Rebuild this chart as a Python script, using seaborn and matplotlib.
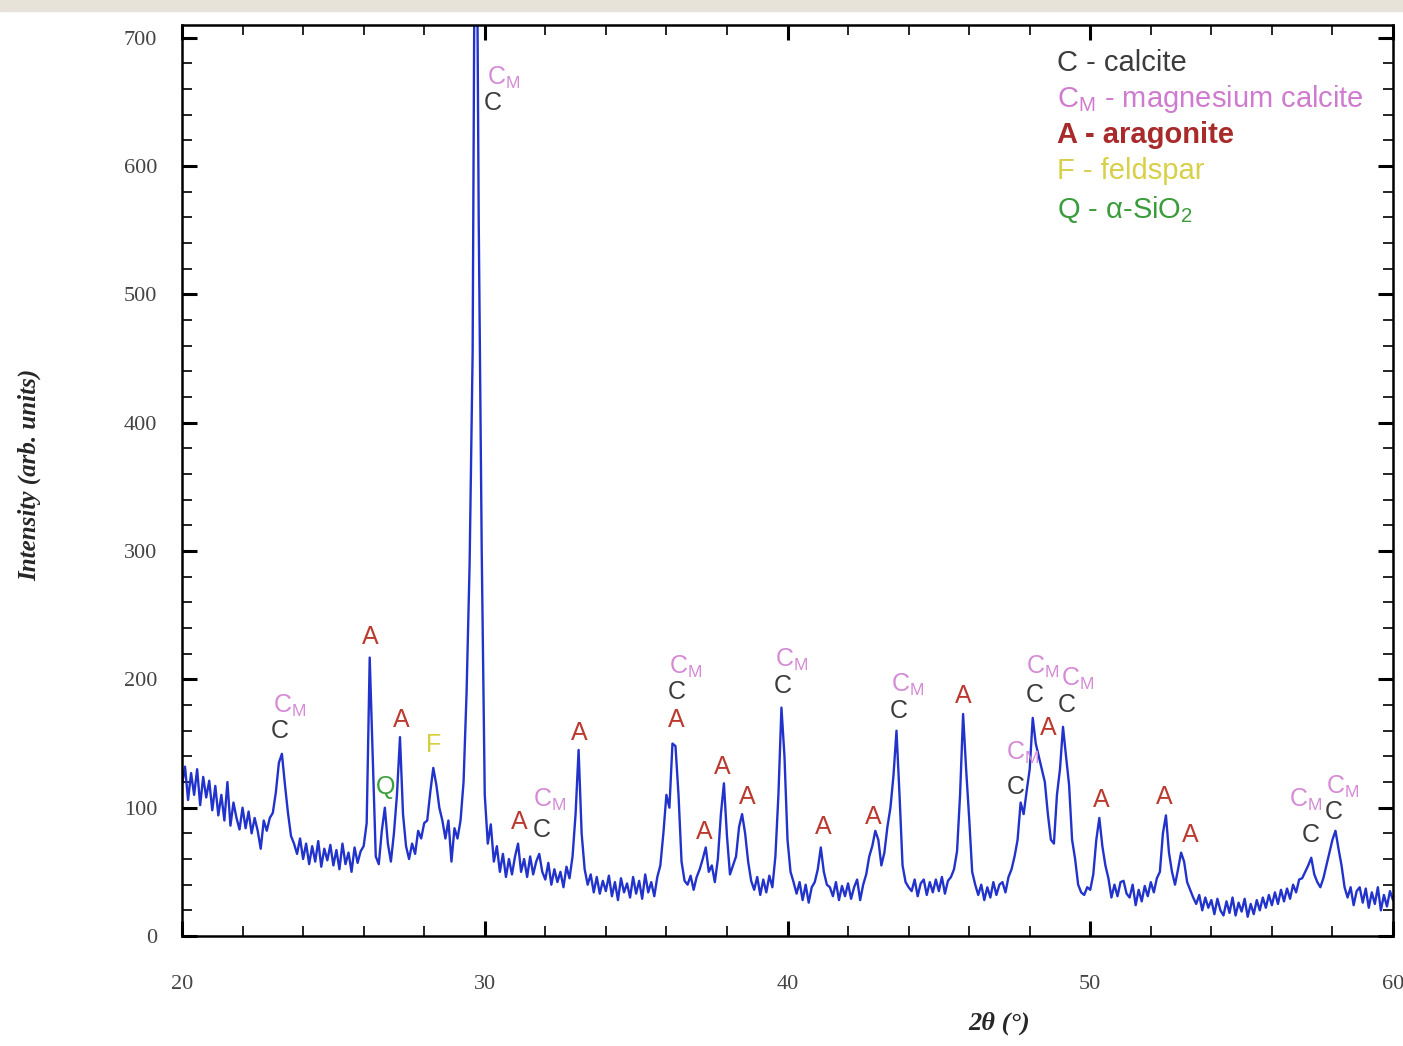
import numpy as np
import pandas as pd
import matplotlib.pyplot as plt
import seaborn as sns
from matplotlib.ticker import MultipleLocator
from matplotlib.patches import Rectangle

# intensity, one value every 0.1 deg of 2theta
int_20_30 = [118, 132, 106, 127, 110, 130, 102, 124, 108, 121,
             98, 117, 94, 110, 90, 120, 86, 104, 92, 83,
             100, 84, 97, 80, 92, 82, 68, 90, 82, 92,
             96, 112, 135, 142, 118, 96, 78, 72, 64, 76,
             60, 72, 56, 70, 58, 74, 54, 68, 59, 71,
             55, 67, 52, 72, 56, 65, 50, 69, 57, 66,
             70, 88, 217, 140, 62, 56, 82, 100, 72, 58,
             80, 110, 155, 95, 70, 60, 72, 64, 82, 76,
             88, 90, 112, 131, 118, 100, 90, 76, 90, 58,
             84, 76, 90, 120, 190, 290, 455, 950, 560, 300]
int_30_40 = [110, 72, 87, 58, 70, 50, 64, 46, 60, 48,
             62, 72, 50, 60, 46, 62, 48, 58, 64, 50,
             44, 57, 40, 52, 42, 50, 38, 54, 45, 62,
             95, 145, 80, 52, 40, 48, 34, 46, 33, 43,
             35, 47, 31, 42, 28, 45, 34, 41, 30, 46,
             33, 43, 29, 48, 34, 42, 31, 46, 55, 80,
             110, 100, 150, 148, 110, 58, 43, 40, 47, 36,
             46, 52, 60, 69, 50, 55, 42, 60, 95, 119,
             78, 48, 55, 62, 85, 95, 80, 58, 43, 36,
             46, 32, 44, 34, 47, 38, 62, 110, 178, 140]
int_40_50 = [75, 50, 42, 33, 42, 28, 40, 26, 38, 42,
             52, 69, 50, 40, 38, 31, 42, 28, 39, 31,
             41, 29, 38, 44, 28, 40, 48, 62, 70, 82,
             75, 55, 65, 85, 100, 125, 160, 110, 55, 42,
             38, 35, 44, 31, 41, 44, 32, 42, 34, 44,
             35, 46, 33, 43, 46, 52, 66, 110, 173, 130,
             92, 50, 40, 32, 40, 28, 38, 30, 42, 32,
             40, 42, 34, 46, 52, 62, 75, 104, 95, 113,
             130, 170, 150, 140, 130, 120, 95, 75, 72, 110,
             130, 163, 140, 118, 75, 60, 40, 34, 32, 38]
int_50_60 = [36, 48, 75, 92, 70, 55, 45, 30, 40, 31,
             42, 43, 33, 30, 40, 24, 36, 27, 39, 31,
             42, 34, 45, 50, 80, 94, 65, 50, 40, 52,
             65, 58, 42, 36, 30, 25, 32, 20, 30, 22,
             28, 17, 29, 20, 16, 27, 18, 30, 16, 26,
             19, 29, 15, 25, 17, 28, 20, 30, 22, 32,
             24, 34, 25, 36, 27, 37, 29, 40, 34, 44,
             45, 50, 55, 61, 48, 42, 38, 45, 55, 65,
             75, 82, 68, 55, 38, 30, 38, 24, 35, 38,
             26, 37, 22, 34, 25, 38, 20, 32, 23, 35, 28]

intensity = int_20_30 + int_30_40 + int_40_50 + int_50_60
two_theta = np.arange(200, 200 + len(intensity)) / 10.0
df = pd.DataFrame({'two_theta': two_theta, 'intensity': intensity})

# phase labels above the peaks
label_phase = ['CM', 'C', 'A', 'Q', 'A', 'F', 'CM', 'C',
               'A', 'CM', 'C', 'A', 'CM', 'C', 'A', 'A', 'A', 'A',
               'CM', 'C', 'A', 'A', 'CM', 'C', 'A',
               'CM', 'C', 'CM', 'CM', 'C', 'C', 'A',
               'A', 'A', 'A', 'CM', 'C', 'CM', 'C']
label_x = [23.57, 23.24, 26.21, 26.71, 27.24, 28.30, 30.61, 30.28,
           31.14, 32.13, 31.87, 33.12, 36.63, 36.33, 36.33, 37.26, 37.85, 38.68,
           40.13, 39.83, 41.19, 42.84, 43.97, 43.67, 45.79,
           47.77, 47.54, 48.43, 49.59, 48.17, 49.22, 48.60,
           50.35, 52.43, 53.32, 57.12, 57.29, 58.35, 58.05]
label_y = [179, 160, 233, 116, 168, 149, 669, 649,
           89, 106, 83, 158, 210, 190, 168, 81, 132, 108,
           215, 195, 85, 93, 196, 175, 187,
           143, 116, 210, 200, 188, 180, 162,
           106, 108, 79, 106, 79, 116, 97]

phase_text = {'C': 'C', 'CM': r'$\mathregular{C_M}$', 'A': 'A', 'F': 'F', 'Q': 'Q'}
phase_color = {'C': '#3c3c3c', 'CM': '#d58bd5', 'A': '#bb3a30',
               'F': '#d6cf3c', 'Q': '#3ca03c'}

legend_lines = ['C - calcite', r'$\mathregular{C_M}$ - magnesium calcite',
                'A - aragonite', 'F - feldspar', 'Q - α-SiO$\\mathregular{_2}$']
legend_colors = ['#3c3c3c', '#cf7bcf', '#a82a2a', '#d8d048', '#3c9c3c']
legend_y = [680, 652, 624, 596, 566]

sns.set_style('ticks')
plt.rcParams['font.family'] = ['Liberation Sans', 'DejaVu Sans']
plt.rcParams['mathtext.fontset'] = 'dejavusans'

fig = plt.figure(figsize=(14.03, 10.46), dpi=100)
fig.patches.append(Rectangle((0, 1 - 11 / 1046), 1, 11 / 1046, transform=fig.transFigure,
                             color='#e8e3d9', zorder=0))
ax = fig.add_axes([182 / 1403, 1 - 936 / 1046, 1211 / 1403, 911 / 1046])

sns.lineplot(data=df, x='two_theta', y='intensity', color='#2233cc', linewidth=1.7, ax=ax)

for ph, x, y in zip(label_phase, label_x, label_y):
    ax.text(x, y, phase_text[ph], color=phase_color[ph], fontsize=18,
            ha='center', va='center')

for txt, col, y in zip(legend_lines, legend_colors, legend_y):
    ax.text(48.9, y, txt, color=col, fontsize=21, ha='left', va='center',
            fontweight='bold' if txt.startswith('A') else 'normal')

ax.set_xlim(20, 60)
ax.set_ylim(0, 710)
ax.xaxis.set_major_locator(MultipleLocator(10))
ax.xaxis.set_minor_locator(MultipleLocator(2))
ax.yaxis.set_major_locator(MultipleLocator(100))
ax.yaxis.set_minor_locator(MultipleLocator(20))
ax.tick_params(which='both', direction='in', top=True, right=True, colors='black')
ax.tick_params(which='major', length=11, width=2.2)
ax.tick_params(which='minor', length=7, width=1.2)
ax.tick_params(axis='x', pad=28, labelcolor='#444444')
ax.tick_params(axis='y', pad=18, labelcolor='#444444')
for lab in ax.get_xticklabels() + ax.get_yticklabels():
    lab.set_fontfamily('Liberation Serif')
    lab.set_fontsize(16)
for sp in ax.spines.values():
    sp.set_linewidth(1.8)
    sp.set_color('black')

ax.set_xlabel('2θ (°)', fontfamily='Liberation Serif', fontweight='bold',
              fontstyle='italic', fontsize=19)
ax.xaxis.set_label_coords(0.675, -0.083)
ax.set_ylabel('Intensity (arb. units)', fontfamily='Liberation Serif', fontweight='bold',
              fontstyle='italic', fontsize=18)
ax.yaxis.set_label_coords(-0.116, 0.506)

plt.savefig('out.png', dpi=100)
plt.close()
